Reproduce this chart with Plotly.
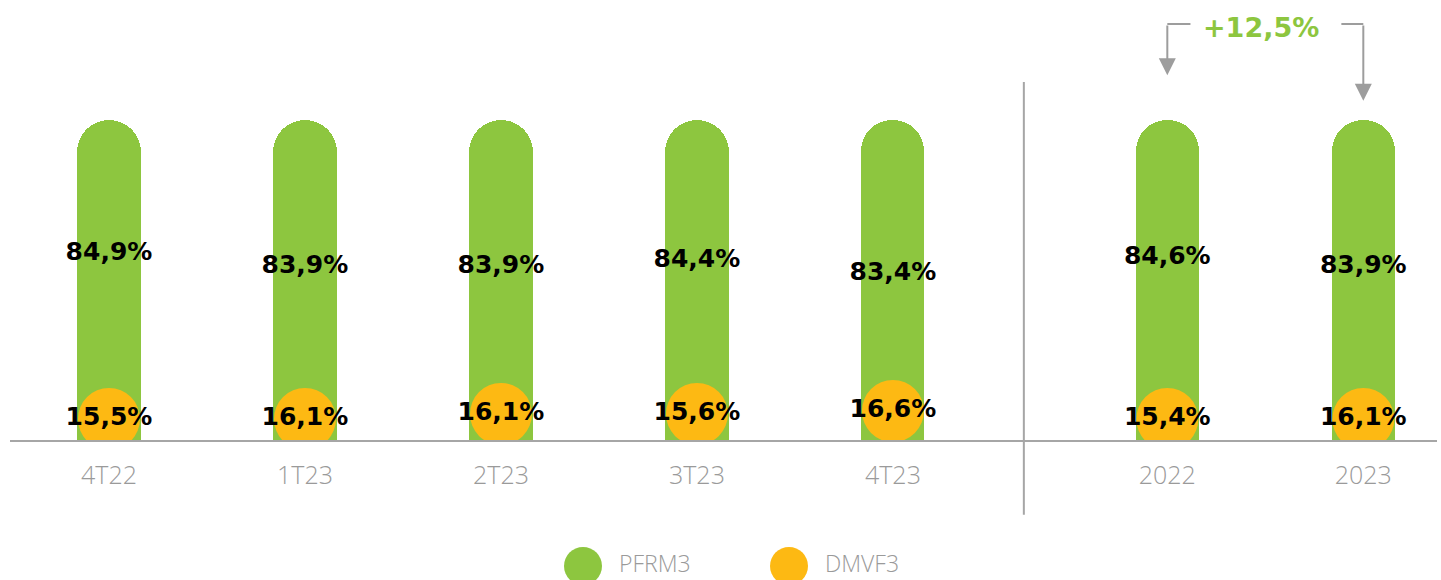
import plotly.graph_objects as go

categories = ["4T22", "1T23", "2T23", "3T23", "4T23", "2022", "2023"]
pfrm3 = [84.9, 83.9, 83.9, 84.4, 83.4, 84.6, 83.9]
dmvf3 = [15.5, 16.1, 16.1, 15.6, 16.6, 15.4, 16.1]
growth_label = "+12,5%"
track = 100

GREEN = "#8dc63f"
ORANGE = "#fdb913"
GREY = "#a6a6a6"
TEXT_GREY = "#9a9a9a"
LABEL_FONT = "DejaVu Sans"

# px per y unit: plot area is 440px tall for a 0..137.5 range
PX = 440 / 137.5

# quarters then a gap before the annual columns
xpos = [i if i < 5 else i + 0.4 for i in range(len(categories))]

# visible height (px) of each orange dot above the axis
dot_h = [52, 52, 57, 57, 60, 52, 52]
dot_size = 62
dot_y = [(h - dot_size / 2) / PX for h in dot_h]

fmt = lambda v: f"{v:.1f}%".replace(".", ",")

fig = go.Figure()

fig.add_trace(go.Bar(
    x=xpos, y=[track] * len(xpos), width=0.322,
    marker=dict(color=GREEN, cornerradius=32, line_width=0),
    name="PFRM3", showlegend=False, hoverinfo="skip",
))

fig.add_trace(go.Scatter(
    x=xpos, y=dot_y, mode="markers+text",
    marker=dict(color=ORANGE, size=dot_size, line_width=0),
    text=[fmt(v) for v in dmvf3], textposition="middle center",
    textfont=dict(family=LABEL_FONT, size=25, color="black", weight="bold"),
    name="DMVF3", showlegend=False, cliponaxis=True,
))

fig.add_trace(go.Scatter(
    x=xpos, y=[58.2 - (pfrm3[0] - v) * 4.15 for v in pfrm3], mode="text",
    text=[fmt(v) for v in pfrm3], textposition="middle center",
    textfont=dict(family=LABEL_FONT, size=25, color="black", weight="bold"),
    showlegend=False, hoverinfo="skip",
))

shapes = [
    # separator between quarters and years
    dict(type="line", xref="x", yref="paper", x0=4.668, x1=4.668,
         y0=-0.17, y1=(440 - 82) / 440, line=dict(color=GREY, width=2)),
    # bracket horizontals
    dict(type="line", xref="x", yref="y", x0=xpos[5], x1=xpos[5] + 0.118,
         y0=130, y1=130, line=dict(color="#9d9d9d", width=2)),
    dict(type="line", xref="x", yref="y", x0=xpos[6] - 0.112, x1=xpos[6],
         y0=130, y1=130, line=dict(color="#9d9d9d", width=2)),
]

annotations = [
    dict(x=xpos[5], y=114, ax=xpos[5], ay=130, xref="x", yref="y",
         axref="x", ayref="y", text="", showarrow=True, arrowhead=2,
         arrowsize=1.7, arrowwidth=2, arrowcolor="#9d9d9d"),
    dict(x=xpos[6], y=106, ax=xpos[6], ay=130, xref="x", yref="y",
         axref="x", ayref="y", text="", showarrow=True, arrowhead=2,
         arrowsize=1.7, arrowwidth=2, arrowcolor="#9d9d9d"),
    dict(x=(xpos[5] + xpos[6]) / 2 - 0.02, y=128.8, xref="x", yref="y",
         text=growth_label, showarrow=False,
         font=dict(family=LABEL_FONT, size=27, color=GREEN, weight="bold")),
]

# legend drawn by hand so the dots can be as large as in the original
for cx, color, name in [(583, GREEN, "PFRM3"), (789, ORANGE, "DMVF3")]:
    xp = (cx - 10) / 1427
    shapes.append(dict(type="circle", xref="paper", yref="paper",
                       xsizemode="pixel", ysizemode="pixel",
                       xanchor=xp, yanchor=(440 - 566) / 440,
                       x0=-19, x1=19, y0=-19, y1=19,
                       fillcolor=color, line_width=0))
    annotations.append(dict(x=(cx + 34 - 10) / 1427, y=(440 - 563) / 440,
                            xref="paper", yref="paper", xanchor="left",
                            yanchor="middle", text=name, showarrow=False,
                            font=dict(family="Open Sans", size=23,
                                      color=TEXT_GREY, weight=300)))

fig.update_layout(
    width=1441, height=580,
    margin=dict(l=10, r=4, t=0, b=140),
    paper_bgcolor="white", plot_bgcolor="white",
    xaxis=dict(
        range=[-0.505, 6.776], tickvals=xpos, ticktext=categories,
        showline=True, linecolor=GREY, linewidth=2, showgrid=False,
        zeroline=False, ticks="", ticklabelstandoff=12,
        tickfont=dict(family="Open Sans", size=25, color=TEXT_GREY,
                      weight=300),
    ),
    yaxis=dict(range=[0, 137.5], visible=False),
    shapes=shapes, annotations=annotations,
    bargap=0,
)

fig.write_html("out.html", config={"displayModeBar": False},
               post_script="document.body.style.margin='0';")
